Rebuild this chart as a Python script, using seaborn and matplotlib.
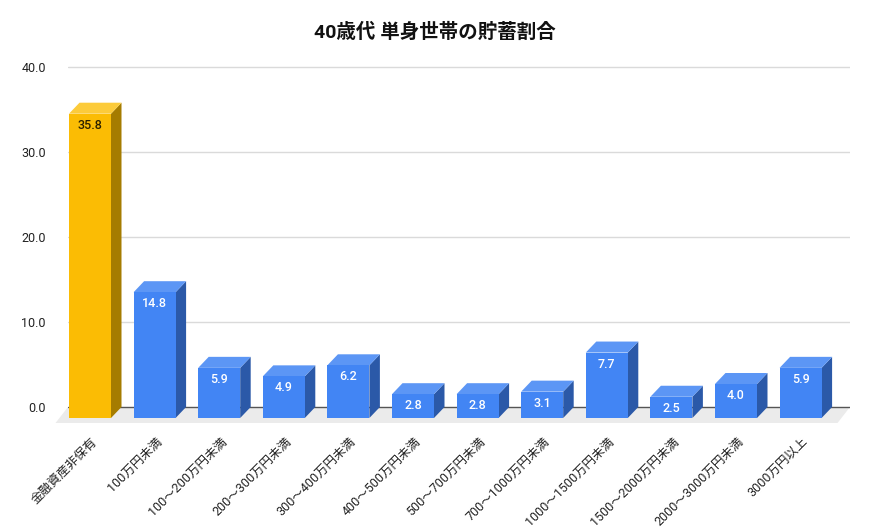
import numpy as np
import pandas as pd
import matplotlib
matplotlib.use("Agg")
import matplotlib.pyplot as plt
from matplotlib.patches import Polygon
import seaborn as sns

# Datos del gráfico
categorias = ["金融資産非保有", "100万円未満", "100～200万円未満", "200～300万円未満",
              "300～400万円未満", "400～500万円未満", "500～700万円未満", "700～1000万円未満",
              "1000～1500万円未満", "1500～2000万円未満", "2000～3000万円未満", "3000万円以上"]
porcentajes = [35.8, 14.8, 5.9, 4.9, 6.2, 2.8, 2.8, 3.1, 7.7, 2.5, 4.0, 5.9]
titulo = "40歳代 単身世帯の貯蓄割合"
y_ticks = [0, 10, 20, 30, 40]

df = pd.DataFrame({"categoria": categorias, "valor": porcentajes})

sns.set_style("white")
plt.rcParams["font.family"] = ["Roboto", "Noto Sans CJK JP", "DejaVu Sans"]

# colores: frontal, superior, lateral
amarillo = ("#FBBC04", "#FCCB3A", "#A57C00")
azul = ("#4285F4", "#5C96F5", "#2B59A8")
colores = [amarillo if i == 0 else azul for i in range(len(categorias))]

fig = plt.figure(figsize=(8.7, 5.28), dpi=100)
W, H = 870, 528
# área del plano trasero en píxeles
px_left, px_right = 68, 850
px_y40, px_y0 = 67, 407
ylo, yhi = -2.0, 40.6
px_per_unit = (px_y0 - px_y40) / 40.0
px_bottom = px_y0 - ylo * px_per_unit
px_top = px_y0 - yhi * px_per_unit
ax = fig.add_axes([px_left / W, 1 - px_bottom / H,
                   (px_right - px_left) / W, (px_bottom - px_top) / H])

paso = 64.6
x0 = (px_left - 100.5) / paso
x1 = (px_right - 100.5) / paso

sns.barplot(data=df, x="categoria", y="valor", hue="categoria",
            palette=[c[0] for c in colores], width=0.65, legend=False,
            saturation=1, ax=ax, zorder=3)
ax.set_xlim(x0, x1)
ax.set_ylim(ylo, yhi)

# profundidad 3D en unidades de datos
dx = 10.5 / paso
dy = 11.0 / px_per_unit
fdx = 12.5 / paso
fdy = 16.0 / px_per_unit

# suelo
suelo = Polygon([(x0, 0), (x1, 0), (x1 - fdx, -fdy), (x0 - fdx, -fdy)],
                closed=True, facecolor="#EBEBEB", edgecolor="none", zorder=1, clip_on=False)
ax.add_patch(suelo)

# líneas de cuadrícula y base
for t in y_ticks[1:]:
    ax.axhline(t, color="#DADADA", lw=1, zorder=0)
ax.axhline(0, color="#555555", lw=1, zorder=2)

for i, p in enumerate(ax.patches[:len(categorias)]):
    x, w, h = p.get_x(), p.get_width(), p.get_height()
    frente, arriba, lado = colores[i]
    lat = Polygon([(x + w - dx, -dy), (x + w, 0), (x + w, h), (x + w - dx, h - dy)],
                  closed=True, facecolor=lado, edgecolor="none", zorder=3)
    sup = Polygon([(x - dx, h - dy), (x, h), (x + w, h), (x + w - dx, h - dy)],
                  closed=True, facecolor=arriba, edgecolor="none", zorder=3)
    ax.add_patch(lat)
    ax.add_patch(sup)
    p.set_x(x - dx)
    p.set_y(-dy)
    p.set_zorder(4)
    p.set_edgecolor("none")
    color_txt = "#2B2100" if i == 0 else "white"
    ax.text(x + w / 2 - dx, h - dy - 11.5 / px_per_unit, f"{porcentajes[i]:.1f}",
            ha="center", va="center", fontsize=9, fontweight="medium",
            color=color_txt, zorder=5)

ax.set_yticks(y_ticks)
ax.set_yticklabels([f"{t:.1f}" for t in y_ticks], fontsize=9, color="#222222")
ax.set_xticks(np.arange(len(categorias)) - 0.08)
ax.set_xticklabels(categorias, rotation=45, ha="right", va="center",
                   rotation_mode="anchor", fontsize=9, color="#222222")
ax.tick_params(axis="y", length=0, pad=16)
ax.tick_params(axis="x", length=0, pad=11)
ax.set_xlabel("")
ax.set_ylabel("")
for s in ax.spines.values():
    s.set_visible(False)

fig.text(0.5, 1 - 32 / H, titulo, ha="center", va="center",
         fontsize=14, fontweight="bold", color="#111111")

fig.savefig("out.png", dpi=100)
